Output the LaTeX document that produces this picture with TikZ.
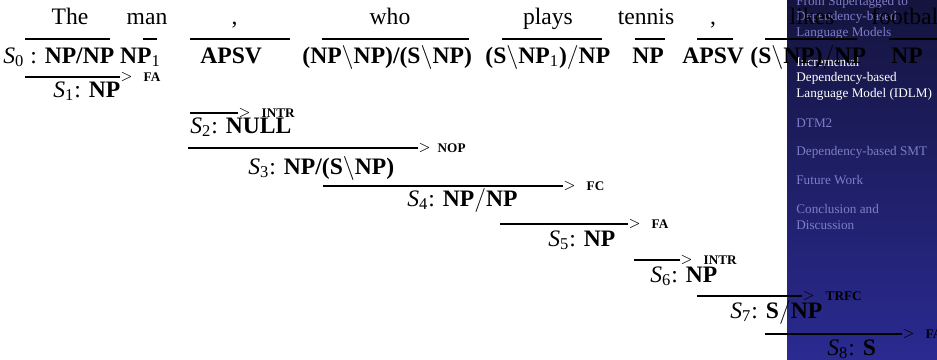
\documentclass[tikz,border=0pt]{standalone}
\usepackage{fontspec}
\setmainfont{Liberation Serif}
\usetikzlibrary{positioning}

\definecolor{navtop}{RGB}{20,20,62}
\definecolor{navbottom}{RGB}{42,42,145}
\definecolor{navitem}{RGB}{125,125,200}

\newcommand{\sn}[1]{{\itshape S}\textsubscript{#1}}
\newcommand{\bs}{$\backslash$}
\newcommand{\fs}{$/$}
\newcommand{\one}{\textsubscript{\mdseries 1}}

\begin{document}
\begin{tikzpicture}[x=0.5pt, y=-0.5pt,
    word/.style={anchor=base, inner sep=0pt, font=\fontsize{11.8}{14}\selectfont},
    cat/.style={anchor=base west, inner sep=0pt, font=\fontsize{11.8}{14}\selectfont},
    bar/.style={line width=0.55pt},
    tip/.style={inner sep=0pt, font=\fontsize{6.6}{8}\selectfont},
    rule/.style={inner sep=0pt, font=\fontsize{6.6}{8}\selectfont\bfseries},
    item/.style={anchor=base west, inner sep=0pt, align=left, text=navitem, font=\fontsize{6.6}{7.75}\selectfont}]
    \useasboundingbox (0,0) rectangle (937,359);

    \shade[top color=navtop, bottom color=navbottom] (787,0) rectangle (937,359);
    \node[item] (nav_1) at (796,36) {From Supertagged to\\Dependency-based\\Language Models};
    \node[item, text=white] (nav_2) at (796,97) {Incremental\\Dependency-based\\Language Model (IDLM)};
    \node[item] (nav_3) at (796,127) {DTM2};
    \node[item] (nav_4) at (796,155) {Dependency-based SMT};
    \node[item] (nav_5) at (796,184) {Future Work};
    \node[item] (nav_6) at (796,229) {Conclusion and\\Discussion};

    \node[word] (word_the) at (70,24) {The};
    \node[word] (word_man) at (147,24) {man};
    \node[word] (word_comma_1) at (234.5,24) {,};
    \node[word] (word_who) at (390,24) {who};
    \node[word] (word_plays) at (548,24) {plays};
    \node[word] (word_tennis) at (646,24) {tennis};
    \node[word] (word_comma_2) at (713,24) {,};
    \node[word] (word_likes) at (812,24) {likes};
    \node[cat] (word_football) at (871,24) {football};

    \draw[bar] (25,39) -- (110,39);
    \draw[bar] (143,39) -- (157,39);
    \draw[bar] (190,39) -- (290,39);
    \draw[bar] (322,39) -- (469,39);
    \draw[bar] (502,39) -- (602,39);
    \draw[bar] (635,39) -- (665,39);
    \draw[bar] (697,39) -- (733,39);
    \draw[bar] (765,39) -- (857,39);
    \draw[bar] (889,39) -- (950,39);

    \node[cat] (cat_the_man) at (3,63) {\sn{0} : \textbf{NP/NP} \textbf{NP}\one};
    \node[cat] (cat_comma_1) at (200,63) {\textbf{APSV}};
    \node[cat] (cat_who) at (302,63) {\textbf{(NP\bs NP)/(S\bs NP)}};
    \node[cat] (cat_plays) at (485,63) {\textbf{(S\bs NP}\one\textbf{)\fs NP}};
    \node[cat] (cat_tennis) at (632,63) {\textbf{NP}};
    \node[cat] (cat_comma_2) at (682,63) {\textbf{APSV}};
    \node[cat] (cat_likes) at (750,63) {\textbf{(S\bs NP)\fs NP}};
    \node[cat] (cat_football) at (891,63) {\textbf{NP}};

    \draw[bar] (25,77) -- (120,77) coordinate (bar_1);
    \node[tip, right = 0pt of bar_1] (tip_1) {$>$};
    \node[rule, right = 5pt of tip_1] (rule_1) {FA};
    \node[cat] (state_1) at (53,97) {\sn{1}: \textbf{NP}};

    \draw[bar] (190,113) -- (238,113) coordinate (bar_2);
    \node[tip, right = 0pt of bar_2] (tip_2) {$>$};
    \node[rule, right = 5pt of tip_2] (rule_2) {INTR};
    \node[cat] (state_2) at (190,133) {\sn{2}: \textbf{NULL}};

    \draw[bar] (188,148) -- (418,148) coordinate (bar_3);
    \node[tip, right = 0pt of bar_3] (tip_3) {$>$};
    \node[rule, right = 3pt of tip_3] (rule_3) {NOP};
    \node[cat] (state_3) at (248,174) {\sn{3}: \textbf{NP/(S\bs NP)}};

    \draw[bar] (323,186) -- (563,186) coordinate (bar_4);
    \node[tip, right = 0pt of bar_4] (tip_4) {$>$};
    \node[rule, right = 5pt of tip_4] (rule_4) {FC};
    \node[cat] (state_4) at (407,206) {\sn{4}: \textbf{NP\fs NP}};

    \draw[bar] (500,224) -- (628,224) coordinate (bar_5);
    \node[tip, right = 0pt of bar_5] (tip_5) {$>$};
    \node[rule, right = 5pt of tip_5] (rule_5) {FA};
    \node[cat] (state_5) at (548,246) {\sn{5}: \textbf{NP}};

    \draw[bar] (634,260) -- (680,260) coordinate (bar_6);
    \node[tip, right = 0pt of bar_6] (tip_6) {$>$};
    \node[rule, right = 5pt of tip_6] (rule_6) {INTR};
    \node[cat] (state_6) at (650,282) {\sn{6}: \textbf{NP}};

    \draw[bar] (697,296) -- (802,296) coordinate (bar_7);
    \node[tip, right = 0pt of bar_7] (tip_7) {$>$};
    \node[rule, right = 5pt of tip_7] (rule_7) {TRFC};
    \node[cat] (state_7) at (730,318) {\sn{7}: \textbf{S\fs NP}};

    \draw[bar] (765,334) -- (902,334) coordinate (bar_8);
    \node[tip, right = 0pt of bar_8] (tip_8) {$>$};
    \node[rule, right = 5pt of tip_8] (rule_8) {FA};
    \node[cat] (state_8) at (827,355) {\sn{8}: \textbf{S}};
\end{tikzpicture}
\end{document}
